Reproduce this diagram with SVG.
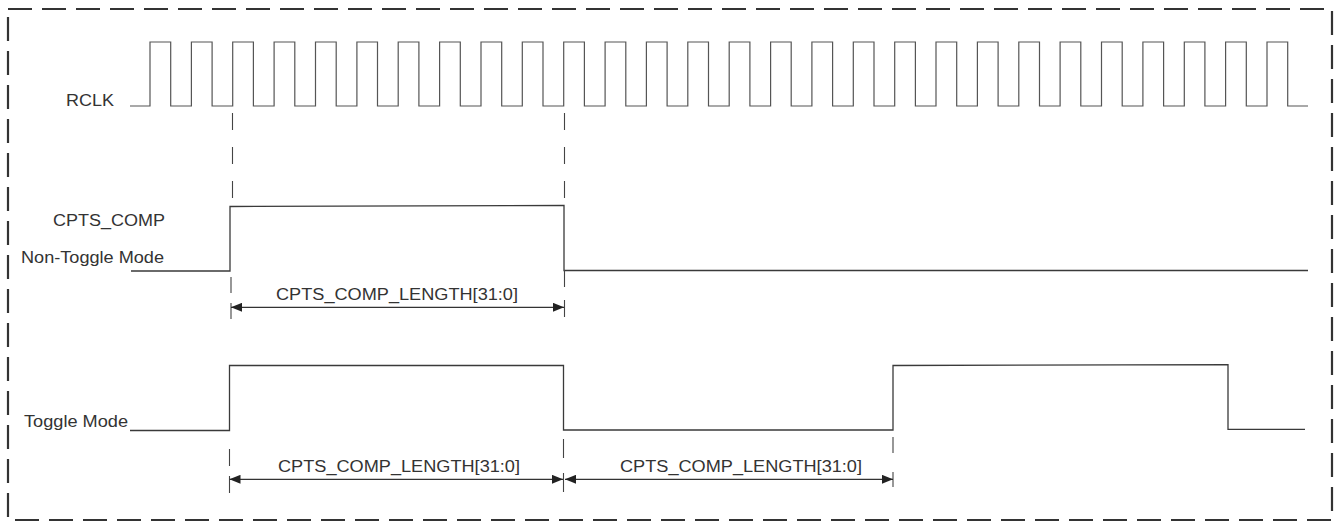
<svg xmlns="http://www.w3.org/2000/svg" width="1336" height="529" viewBox="0 0 1336 529">
<style>
.lbl{font-family:"Liberation Sans",Arial,sans-serif;font-size:16px;fill:#333}
.wave{fill:none;stroke:#3a3a3a;stroke-width:1.3}
.clk{fill:none;stroke:#555;stroke-width:1.2}
.guide{stroke:#444;stroke-width:1.1;fill:none}
.dim{stroke:#333;stroke-width:1.2;fill:none;marker-start:url(#ah);marker-end:url(#ah)}
</style>
<defs>
<marker id="ah" markerUnits="userSpaceOnUse" markerWidth="11" markerHeight="9" refX="11" refY="4.5" orient="auto-start-reverse">
<path d="M0,0 L11,4.5 L0,9 z" fill="#222"/>
</marker>
</defs>
<rect id="frame" x="8" y="9" width="1324" height="511" fill="none" stroke="#333" stroke-width="2.2" stroke-dasharray="24 10"/>
<g id="rclk">
<text class="lbl" x="66" y="106" textLength="48" lengthAdjust="spacingAndGlyphs">RCLK</text>
<path class="clk" d="M130,106 H150 V42 H170.7 V106 H191.4 V42 H212.1 V106 H232.7 V42 H253.4 V106 H274.1 V42 H294.8 V106 H315.5 V42 H336.2 V106 H356.9 V42 H377.5 V106 H398.2 V42 H418.9 V106 H439.6 V42 H460.3 V106 H481 V42 H501.7 V106 H522.3 V42 H543 V106 H563.7 V42 H584.4 V106 H605.1 V42 H625.8 V106 H646.4 V42 H667.1 V106 H687.8 V42 H708.5 V106 H729.2 V42 H749.9 V106 H770.6 V42 H791.2 V106 H811.9 V42 H832.6 V106 H853.3 V42 H874 V106 H894.7 V42 H915.4 V106 H936 V42 H956.7 V106 H977.4 V42 H998.1 V106 H1018.8 V42 H1039.5 V106 H1060.1 V42 H1080.8 V106 H1101.5 V42 H1122.2 V106 H1142.9 V42 H1163.6 V106 H1184.3 V42 H1204.9 V106 H1225.6 V42 H1246.3 V106 H1267 V42 H1287.7 V106 H1308"/>
</g>
<g id="nontoggle">
<text class="lbl" x="53" y="226" textLength="112" lengthAdjust="spacingAndGlyphs">CPTS_COMP</text>
<text class="lbl" x="21" y="263" textLength="143" lengthAdjust="spacingAndGlyphs">Non-Toggle Mode</text>
<path class="wave" d="M131,271 H230 V206.5 L564,205.5 V270.5 H1308"/>
<text class="lbl" x="276" y="300" textLength="242" lengthAdjust="spacingAndGlyphs">CPTS_COMP_LENGTH[31:0]</text>
</g>
<g id="toggle">
<text class="lbl" x="24" y="427" textLength="104" lengthAdjust="spacingAndGlyphs">Toggle Mode</text>
<path class="wave" d="M130,430.5 H229.5 V365.5 H563.5 V430 H893 V365.5 L1228,364.7 V429.3 H1305"/>
<text class="lbl" x="278" y="472" textLength="242" lengthAdjust="spacingAndGlyphs">CPTS_COMP_LENGTH[31:0]</text>
<text class="lbl" x="620" y="472" textLength="242" lengthAdjust="spacingAndGlyphs">CPTS_COMP_LENGTH[31:0]</text>
</g>
<g id="connectors">
<line class="guide" x1="232.5" y1="113" x2="232.5" y2="198" stroke-dasharray="17 17"/>
<line class="guide" x1="564.5" y1="113" x2="564.5" y2="198" stroke-dasharray="17 17"/>
<line class="guide" x1="231" y1="277" x2="231" y2="323" stroke-dasharray="16 10"/>
<line class="guide" x1="564.5" y1="270" x2="564.5" y2="320" stroke-dasharray="17 13"/>
<line class="guide" x1="229.5" y1="449" x2="229.5" y2="493" stroke-dasharray="17 10"/>
<line class="guide" x1="563.5" y1="439" x2="563.5" y2="492" stroke-dasharray="19 15"/>
<line class="guide" x1="893" y1="437" x2="893" y2="487" stroke-dasharray="16 19"/>
<line class="dim" x1="231" y1="307.3" x2="564" y2="307.3"/>
<line class="dim" x1="229.5" y1="479.3" x2="563" y2="479.3"/>
<line class="dim" x1="565" y1="479.3" x2="893" y2="479.3"/>
</g>
</svg>
